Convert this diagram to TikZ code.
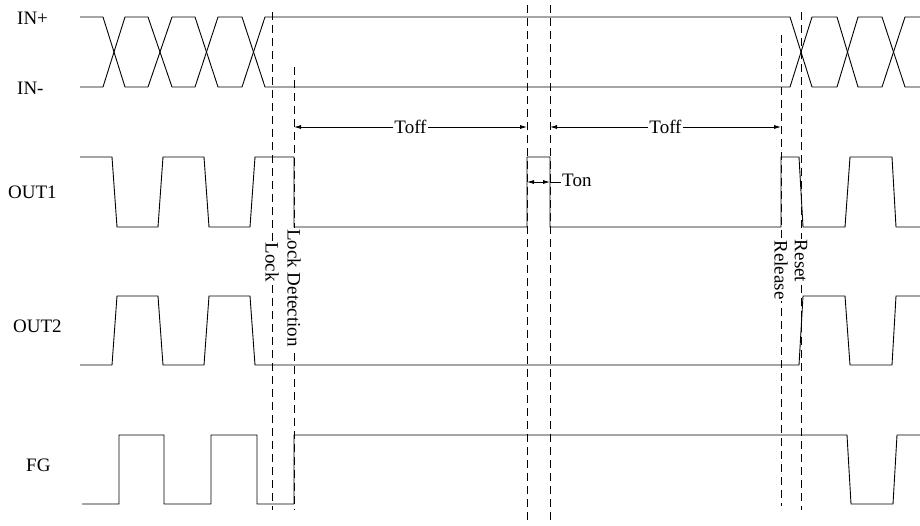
\documentclass[tikz,border=0pt]{standalone}
\usepackage{fontspec}
\setmainfont{Liberation Serif}
\usetikzlibrary{arrows.meta}

\tikzset{
  wave/.style={line width=0.9pt, line join=miter},
  guide/.style={line width=0.9pt, dash pattern=on 8pt off 5pt},
  dim/.style={line width=0.8pt, {Latex[length=7pt,width=4pt]}-{Latex[length=7pt,width=4pt]}},
  sig/.style={anchor=west, inner sep=0pt},
  vlabel/.style={rotate=-90, fill=white, inner sep=1pt},
}

\begin{document}
\begin{tikzpicture}[x=1pt, y=-1pt, font=\fontsize{19}{22}\selectfont]
    \useasboundingbox (0,0) rectangle (920,525);

    % Signal names
    \node (inp) [sig] at (17,18) {IN+};
    \node (inm) [sig] at (17,88) {IN-};
    \node (out1) [sig] at (8,192) {OUT1};
    \node (out2) [sig] at (13,326) {OUT2};
    \node (fg) [sig] at (26,465) {FG};

    % Dashed time marks
    \draw[guide] (272,12) -- (272,510);
    \draw[guide] (294,67) -- (294,510);
    \draw[guide] (527,5) -- (527,520);
    \draw[guide] (550,5) -- (550,520);
    \draw[guide] (781,35) -- (781,506);
    \draw[guide] (801,12) -- (801,510);

    % Labels on the time marks
    \node (lock) [vlabel] at (272,262) {Lock};
    \node (lockdet) [vlabel] at (294,288) {Lock Detection};
    \node (release) [vlabel] at (781,270) {Release};
    \node (reset) [vlabel] at (801,261) {Reset};

    % IN+ and IN-
    \draw[wave] (80,17) -- (103,17) -- (125,87) -- (148,87) -- (172,17) -- (195,17) -- (218,87) -- (242,87) -- (265,17)
        -- (790,17) -- (812,87) -- (837,87) -- (858,17) -- (882,17) -- (905,87) -- (920,87);
    \draw[wave] (80,87) -- (103,87) -- (125,17) -- (148,17) -- (172,87) -- (195,87) -- (218,17) -- (242,17) -- (265,87)
        -- (790,87) -- (812,17) -- (837,17) -- (858,87) -- (882,87) -- (905,17) -- (920,17);

    % OUT1
    \draw[wave] (80,157) -- (112,157) -- (117,227) -- (158,227) -- (163,157) -- (204,157) -- (209,227) -- (250,227)
        -- (255,157) -- (294,157) -- (294,227) -- (527,227) -- (527,157) -- (550,157) -- (550,227) -- (781,227)
        -- (781,157) -- (799,157) -- (803,227) -- (845,227) -- (850,157) -- (892,157) -- (896,227) -- (920,227);

    % OUT2
    \draw[wave] (80,365) -- (112,365) -- (117,296) -- (158,296) -- (163,365) -- (204,365) -- (209,296) -- (250,296)
        -- (255,365) -- (799,365) -- (803,296) -- (845,296) -- (850,365) -- (892,365) -- (896,296) -- (920,296);

    % FG
    \draw[wave] (82,504) -- (119,504) -- (119,435) -- (164,435) -- (164,504) -- (211,504) -- (211,435) -- (257,435)
        -- (257,504) -- (294,504) -- (294,435) -- (847,435) -- (851,504) -- (893,504) -- (897,435) -- (920,435);

    % Toff and Ton
    \draw[dim] (294,127) -- node[fill=white, inner sep=1pt] (toffa) {Toff} (527,127);
    \draw[dim] (550,127) -- node[fill=white, inner sep=1pt] (toffb) {Toff} (781,127);
    \node (ton) [anchor=west, inner sep=1pt] at (561,180) {Ton};
    \draw[dim] (527,182) -- (550,182);
    \draw[line width=0.8pt] (550,182) -- (561,182);

\end{tikzpicture}
\end{document}
